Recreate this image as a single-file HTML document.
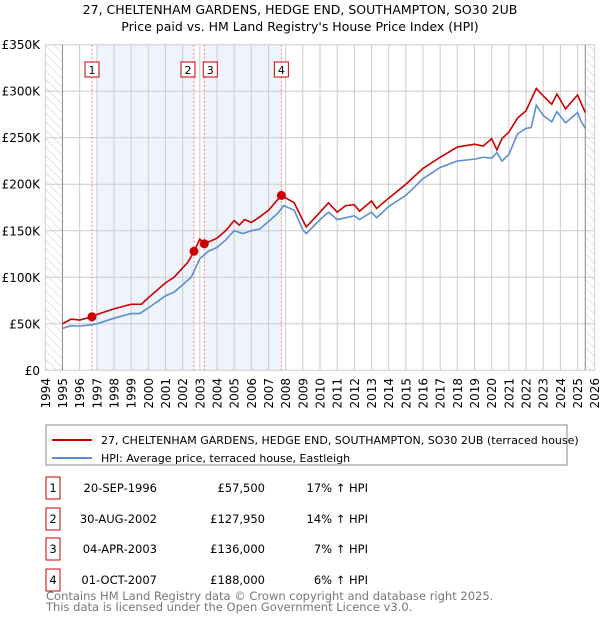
<!DOCTYPE html>
<html><head><meta charset="utf-8"><style>
body{margin:0;background:#fff;font-family:"Liberation Sans","DejaVu Sans",sans-serif;}
svg text{font-family:"DejaVu Sans","Liberation Sans",sans-serif;}
</style></head><body>
<svg id="chart" width="600" height="620" xmlns="http://www.w3.org/2000/svg">
<defs><pattern id="hatch" width="6" height="6" patternUnits="userSpaceOnUse" patternTransform="rotate(-45)"><line x1="0" y1="0" x2="0" y2="6" stroke="#ccc" stroke-width="1"/></pattern></defs>
<text x="300" y="14" text-anchor="middle" font-size="12.5">27, CHELTENHAM GARDENS, HEDGE END, SOUTHAMPTON, SO30 2UB</text>
<text x="300" y="31" text-anchor="middle" font-size="12.5">Price paid vs. HM Land Registry's House Price Index (HPI)</text>
<g id="plot"></g>
<g>
<rect x="46" y="425" width="521" height="40" fill="#fff" stroke="#888"/>
<line x1="52" y1="440" x2="92" y2="440" stroke="#cc0000" stroke-width="2"/>
<text x="101" y="444" font-size="11">27, CHELTENHAM GARDENS, HEDGE END, SOUTHAMPTON, SO30 2UB (terraced house)</text>
<line x1="52" y1="458" x2="92" y2="458" stroke="#5b8fd0" stroke-width="2"/>
<text x="101" y="462" font-size="11">HPI: Average price, terraced house, Eastleigh</text>
</g>
<g id="table" font-size="11.5"></g>
<text x="46" y="600" font-size="11.5" fill="#777">Contains HM Land Registry data © Crown copyright and database right 2025.</text>
<text x="46" y="611" font-size="11.5" fill="#777">This data is licensed under the Open Government Licence v3.0.</text>
</svg>
<script>
const yTicks=[0,50000,100000,150000,200000,250000,300000,350000];
const yTickLabels=["£0","£50K","£100K","£150K","£200K","£250K","£300K","£350K"];
const xYears=[1994,1995,1996,1997,1998,1999,2000,2001,2002,2003,2004,2005,2006,2007,2008,2009,2010,2011,2012,2013,2014,2015,2016,2017,2018,2019,2020,2021,2022,2023,2024,2025,2026];
const hpiT=[1995.0,1995.5,1996,1996.7,1997,1998,1999,1999.5,2000,2001,2001.5,2002,2002.5,2003,2003.5,2004,2004.5,2005,2005.5,2006,2006.5,2007,2007.5,2007.9,2008.5,2009.0,2009.2,2010,2010.5,2011,2012,2012.3,2013,2013.3,2014,2015,2016,2017,2018,2019,2019.5,2020,2020.3,2020.6,2021,2021.5,2022,2022.3,2022.6,2023,2023.5,2023.8,2024.3,2025,2025.2,2025.45];
const hpiV=[45000,48000,47500,49000,50000,56000,61000,61000,67000,80000,84000,92000,100000,120000,128000,132000,140000,150000,147000,150000,152000,160000,168000,177000,172000,151000,147000,162000,170000,162000,166000,162000,170000,164000,176000,188000,206000,218000,225000,227000,229000,228000,234000,225000,232000,254000,260000,261000,285000,274000,267000,278000,266000,277000,268000,260000];
const priceT=[1995.0,1995.5,1996,1996.7,1997,1998,1999,1999.6,2000,2001,2001.5,2002,2002.3,2002.67,2003,2003.27,2004,2004.5,2005,2005.3,2005.6,2006,2006.5,2007,2007.75,2008.5,2008.9,2009.2,2010,2010.5,2011,2011.5,2012,2012.3,2013,2013.3,2014,2015,2016,2017,2018,2019,2019.5,2020,2020.3,2020.6,2021,2021.5,2022,2022.6,2023,2023.5,2023.8,2024.3,2025,2025.45];
const priceV=[50000,55000,54000,57500,60000,66000,71000,71000,78000,94000,100000,110000,116000,127950,141000,136000,142000,150000,161000,156000,162000,159000,165000,172000,188000,180000,165000,154000,170000,180000,170000,177000,178000,171000,182000,174000,185000,200000,217000,229000,240000,243000,241000,249000,237000,249000,256000,271000,279000,303000,295000,286000,297000,281000,296000,277000];
const saleLabels=["1","2","3","4"];
const saleT=[1996.72,2002.66,2003.26,2007.75];
const saleV=[57500,127950,136000,188000];
const saleDates=["20-SEP-1996","30-AUG-2002","04-APR-2003","01-OCT-2007"];
const salePrices=["£57,500","£127,950","£136,000","£188,000"];
const saleHpi=["17% ↑ HPI","14% ↑ HPI","7% ↑ HPI","6% ↑ HPI"];
const NS="http://www.w3.org/2000/svg";
const X0=45.3,X1=594.7,Y0=370.3,Y1=44.7;
const x=t=>X0+(t-1994)/32*(X1-X0);
const y=v=>Y0-v/350000*(Y0-Y1);
const plot=document.getElementById('plot');
function mk(tag,attrs,parent){const e=document.createElementNS(NS,tag);for(const k in attrs)e.setAttribute(k,attrs[k]);(parent||plot).appendChild(e);return e;}
let e;
e=mk('rect',{x:X0,y:Y1,width:X1-X0,height:Y0-Y1,fill:'#fff'});

e=mk('rect',{x:x(1997),y:Y1,width:x(2002.66)-x(1997),height:Y0-Y1,fill:'#eef3fc'});

e=mk('rect',{x:x(2003.26),y:Y1,width:x(2007.75)-x(2003.26),height:Y0-Y1,fill:'#eef3fc'});

e=mk('rect',{x:X0,y:Y1,width:x(1995)-X0,height:Y0-Y1,fill:'url(#hatch)'});

e=mk('rect',{x:x(2025.45),y:Y1,width:X1-x(2025.45),height:Y0-Y1,fill:'url(#hatch)'});

xYears.forEach((yr,i)=>{
 const g=mk('line',{x1:x(yr),x2:x(yr),y1:Y1,y2:Y0,stroke:'#ccc','stroke-width':1});
 
 const t=mk('text',{x:0,y:0,'font-size':12,'text-anchor':'end',transform:`translate(${x(yr)+4.5},378) rotate(-90)`});
 t.textContent=yr;
 
});
yTicks.forEach((v,i)=>{
 const g=mk('line',{x1:X0,x2:X1,y1:y(v),y2:y(v),stroke:'#ccc','stroke-width':1});
 
 const t=mk('text',{x:40,y:y(v)+4.5,'font-size':12,'text-anchor':'end'});
 t.textContent=yTickLabels[i];
 
});
e=mk('line',{x1:x(1995),x2:x(1995),y1:Y1,y2:Y0,stroke:'#888'});

e=mk('line',{x1:x(2025.45),x2:x(2025.45),y1:Y1,y2:Y0,stroke:'#888'});

saleT.forEach((t,i)=>{
 const l=mk('line',{x1:x(t),x2:x(t),y1:Y1,y2:Y0,stroke:'#f08080','stroke-dasharray':'2,2'});
 
});
const hp=mk('polyline',{points:hpiT.map((t,i)=>x(t)+','+y(hpiV[i])).join(' '),fill:'none',stroke:'#5b8fd0','stroke-width':1.6});

const pp=mk('polyline',{points:priceT.map((t,i)=>x(t)+','+y(priceV[i])).join(' '),fill:'none',stroke:'#cc0000','stroke-width':1.6});

saleT.forEach((t,i)=>{
 const d=mk('circle',{cx:x(t),cy:y(saleV[i]),r:4.5,fill:'#cc0000'});
 
 const off=i==1?-6:(i==2?6:0);
 const b=mk('rect',{x:x(t)-7+off,y:62,width:14,height:15,fill:'#fff',stroke:'#cc0000'});
 
 const tx=mk('text',{x:x(t)+off,y:74,'font-size':11,'text-anchor':'middle'});
 tx.textContent=saleLabels[i];
 
});
const tb=document.getElementById('table');
const rowY=[488,519,549,580];
saleLabels.forEach((s,i)=>{
 const cy=rowY[i];
 const b=mk('rect',{x:46,y:cy-11,width:14,height:22,fill:'#fff',stroke:'#cc0000'},tb);
 
 const n=mk('text',{x:53,y:cy+4,'text-anchor':'middle'},tb);n.textContent=s;
 
 const d=mk('text',{x:157,y:cy+4,'text-anchor':'end'},tb);d.textContent=saleDates[i];
 
 const p=mk('text',{x:265,y:cy+4,'text-anchor':'end'},tb);p.textContent=salePrices[i];
 
 const h=mk('text',{x:368,y:cy+4,'text-anchor':'end'},tb);h.textContent=saleHpi[i];
 
});
</script>
</body></html>
